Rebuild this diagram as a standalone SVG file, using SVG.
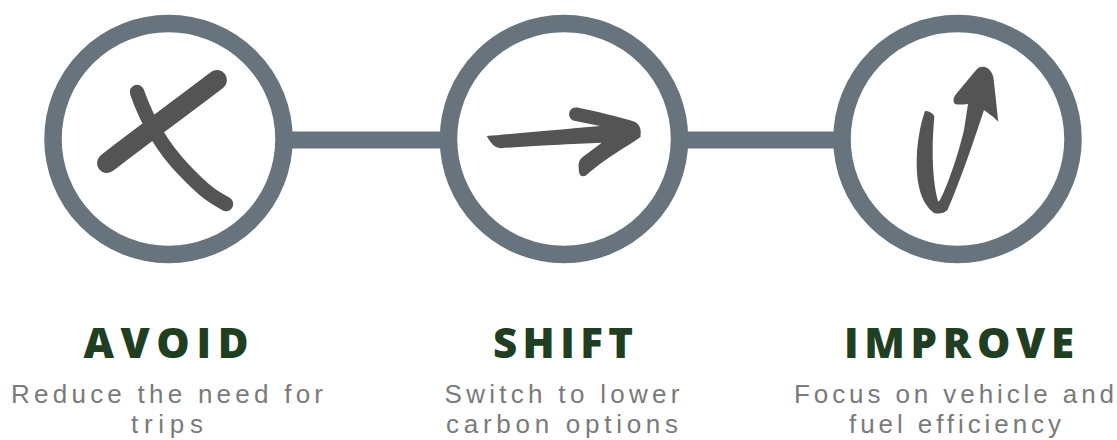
<svg xmlns="http://www.w3.org/2000/svg" width="1117" height="440" viewBox="0 0 1117 440">
<style>
.ring{fill:#ffffff;stroke:#67747e;stroke-width:17.5}
.conn{stroke:#67747e;stroke-width:17;fill:none}
.ink{fill:#545454}
.inks{fill:none;stroke:#545454;stroke-linecap:round}
.title{font-family:"Open Sans","Liberation Sans",sans-serif;font-weight:800;font-size:42px;fill:#1f3e22;text-anchor:middle}
.desc{font-family:"Liberation Sans","Open Sans",sans-serif;font-weight:400;font-size:26px;fill:#7a7a7a;text-anchor:middle}
</style>
<rect width="1117" height="440" fill="#ffffff"/>
<g id="connectors">
<line class="conn" x1="285" y1="140" x2="447" y2="140"/>
<line class="conn" x1="681" y1="140" x2="840" y2="140"/>
</g>
<g id="avoid">
<circle class="ring" cx="168.5" cy="139" r="115.5"/>
<path class="inks" stroke-width="20" d="M107,163 C135,141 175,112 217,80"/>
<path class="inks" stroke-width="14.5" d="M137,92 C145,115 160,145 184,170 S214,197 226,204"/>
<text class="title" x="166" y="358" textLength="165" lengthAdjust="spacing">AVOID</text>
<text class="desc" x="167" y="403" textLength="312" lengthAdjust="spacing">Reduce the need for</text>
<text class="desc" x="167" y="433" textLength="72" lengthAdjust="spacing">trips</text>
</g>
<g id="shift">
<circle class="ring" cx="564" cy="139" r="115.5"/>
<path class="ink" d="M486.7,136 C510,134 560,129.5 600,126 L573,120.5 Q568,118 569.5,112 Q571,107 577,107.5 C595,111 620,117 634,121.5 Q640,124 640.7,131 L640.5,137 C630,145 605,158 586,175.5 Q580,178 579,172 L578.5,165 Q579,159 584,156 L601.7,142.7 C570,144 530,146 500,148.3 Q493,148 486.7,136 Z"/>
<text class="title" x="563" y="358" textLength="140" lengthAdjust="spacing">SHIFT</text>
<text class="desc" x="562" y="403" textLength="235" lengthAdjust="spacing">Switch to lower</text>
<text class="desc" x="562" y="433" textLength="232" lengthAdjust="spacing">carbon options</text>
</g>
<g id="improve">
<circle class="ring" cx="957.5" cy="139" r="115.5"/>
<path class="ink" d="M925,111 C920,125 916.5,145 916.7,165 C917,185 921,203 934,213 Q942,215 947.5,210 C953,198 966,165 984,110 L993.3,117 L998.3,121.7 C997,110 995,90 993.3,76.7 Q991,69 985,67 Q980,66 977,69 L956.7,93.3 Q951,100 955,104 Q959,105 968,104 L964,130 C958,155 948,185 940,200 L938.3,201.7 C934.5,190 932.5,170 932.7,150 C932.7,135 934,122 934.3,116 Q931,111 925,111 Z"/>
<text class="title" x="959" y="358" textLength="230" lengthAdjust="spacing">IMPROVE</text>
<text class="desc" x="954" y="403" textLength="320" lengthAdjust="spacing">Focus on vehicle and</text>
<text class="desc" x="955" y="433" textLength="212" lengthAdjust="spacing">fuel efficiency</text>
</g>
</svg>
